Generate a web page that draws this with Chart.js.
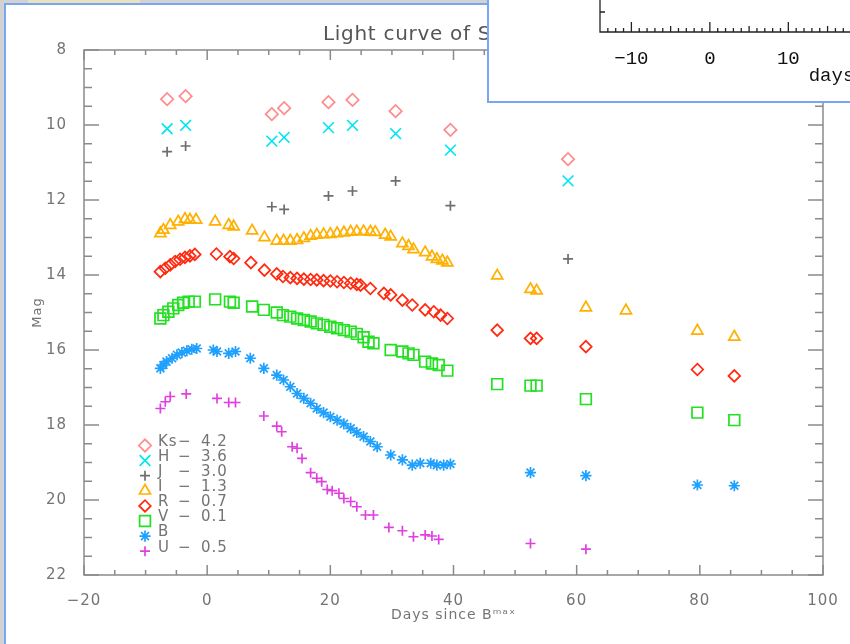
<!DOCTYPE html>
<html>
<head>
<meta charset="utf-8">
<script src="https://cdn.jsdelivr.net/npm/chart.js@4"></script>
<style>
  html, body { margin: 0; padding: 0; width: 850px; height: 644px; overflow: hidden; background: #d2d2d2; }
  #topbar { position: absolute; left: 28px; top: 0; width: 112px; height: 3px; background: #e7e1c2; }
  #win { position: absolute; left: 4px; top: 3px; width: 900px; height: 700px; background: #fff;
         border-left: 2px solid #78a6f2; border-top: 2px solid #78a6f2; }
  #main { position: absolute; left: 0; top: 0; }
  #inset { position: absolute; left: 487px; top: -10px; width: 700px; height: 111px; background: #fff;
           border-left: 2px solid #78a6f2; border-bottom: 2px solid #78a6f2; overflow: hidden; }
  #insetChart { position: absolute; left: 0; top: 10px; }
</style>
</head>
<body>
<div id="topbar"></div>
<div id="win"></div>
<canvas id="main" width="850" height="644"></canvas>
<div id="inset"><canvas id="insetChart" width="574" height="101"></canvas></div>
<script>
// days since B max / magnitudes (with offsets applied)
const nirDays = [-6.5, -3.5, 10.5, 12.5, 19.7, 23.6, 30.6, 39.5, 58.6];
const ksMag = [9.31, 9.23, 9.71, 9.55, 9.39, 9.33, 9.63, 10.13, 10.91];
const hMag = [10.10, 10.01, 10.43, 10.33, 10.07, 10.01, 10.23, 10.67, 11.49];
const jMag = [10.71, 10.56, 12.18, 12.25, 11.89, 11.76, 11.49, 12.15, 13.57];

const iDays = [-7.6, -7.1, -6.0, -4.7, -3.6, -2.8, -1.8, 1.3, 3.5, 4.3, 7.3, 9.3, 11.3, 12.4, 13.5, 14.6, 15.7,
  16.8, 17.8, 18.9, 20.0, 21.1, 22.2, 23.3, 24.3, 25.4, 26.5, 27.3, 28.9, 29.8, 31.7, 32.7, 33.5, 35.4, 36.5,
  37.3, 38.2, 39.0, 47.1, 52.5, 53.5, 61.5, 68.0, 79.6, 85.6];
const iMag = [12.89, 12.80, 12.67, 12.58, 12.51, 12.53, 12.53, 12.58, 12.67, 12.71, 12.82, 13.00, 13.09, 13.09,
  13.09, 13.07, 13.02, 12.96, 12.93, 12.92, 12.91, 12.89, 12.87, 12.85, 12.84, 12.84, 12.85, 12.86, 12.93, 12.98,
  13.16, 13.23, 13.32, 13.40, 13.51, 13.58, 13.62, 13.67, 14.02, 14.38, 14.42, 14.87, 14.95, 15.49, 15.65];

const rDays = [-7.6, -6.8, -6.0, -5.2, -4.4, -3.6, -2.8, -2.0, 1.5, 3.7, 4.3, 7.1, 9.3, 11.3, 12.3, 13.5, 14.6,
  15.7, 16.8, 17.8, 18.9, 20.0, 21.1, 22.2, 23.3, 24.3, 24.9, 26.5, 28.7, 29.8, 31.7, 33.3, 35.4, 36.8, 37.9,
  39.0, 47.1, 52.5, 53.5, 61.5, 79.6, 85.6];
const rMag = [13.91, 13.82, 13.73, 13.64, 13.58, 13.53, 13.49, 13.45, 13.44, 13.51, 13.56, 13.67, 13.87, 13.97,
  14.04, 14.07, 14.09, 14.11, 14.12, 14.13, 14.15, 14.16, 14.18, 14.20, 14.22, 14.25, 14.27, 14.36, 14.49, 14.53,
  14.67, 14.80, 14.93, 14.98, 15.07, 15.16, 15.47, 15.69, 15.69, 15.91, 16.52, 16.69];

const vDays = [-7.6, -7.1, -6.3, -5.5, -4.7, -3.9, -3.0, -2.0, 1.3, 3.7, 4.3, 7.3, 9.2, 11.3, 12.3, 13.5, 14.6,
  15.7, 16.8, 17.8, 18.9, 20.0, 21.1, 22.2, 23.3, 24.3, 25.4, 26.2, 27.0, 29.8, 31.7, 32.7, 33.5, 35.4, 36.5,
  37.6, 39.0, 47.1, 52.5, 53.5, 61.5, 79.6, 85.6];
const vMag = [15.16, 15.07, 14.98, 14.89, 14.80, 14.74, 14.71, 14.71, 14.65, 14.71, 14.74, 14.84, 14.93, 15.00,
  15.07, 15.11, 15.16, 15.20, 15.24, 15.29, 15.33, 15.38, 15.42, 15.47, 15.51, 15.57, 15.66, 15.78, 15.82, 16.00,
  16.04, 16.09, 16.13, 16.31, 16.36, 16.40, 16.55, 16.91, 16.95, 16.95, 17.31, 17.67, 17.87];

const bDays = [-7.6, -7.1, -6.6, -5.7, -4.9, -4.1, -3.3, -2.5, -1.7, 1.0, 1.6, 3.5, 4.6, 7.0, 9.2, 11.3, 12.4,
  13.5, 14.6, 15.7, 16.8, 17.8, 18.9, 20.0, 21.1, 22.2, 23.3, 24.3, 25.4, 26.5, 27.6, 29.8, 31.7, 33.3, 34.6,
  36.3, 37.3, 38.4, 39.5, 52.5, 61.5, 79.6, 85.6];
const bMag = [16.49, 16.40, 16.31, 16.22, 16.13, 16.07, 16.02, 15.98, 15.96, 16.00, 16.04, 16.09, 16.04, 16.22,
  16.49, 16.67, 16.80, 16.98, 17.16, 17.29, 17.42, 17.56, 17.67, 17.78, 17.87, 17.97, 18.09, 18.20, 18.31, 18.44,
  18.58, 18.80, 18.93, 19.07, 19.02, 19.02, 19.07, 19.07, 19.04, 19.27, 19.35, 19.60, 19.62];

const uDays = [-7.6, -6.8, -6.0, -3.4, 1.6, 3.5, 4.6, 9.2, 11.3, 12.1, 13.8, 14.6, 15.4, 16.8, 17.8, 18.6, 19.5,
  20.3, 21.4, 22.2, 23.3, 24.3, 25.7, 27.0, 29.5, 31.7, 33.5, 35.4, 36.5, 37.6, 52.5, 61.5];
const uMag = [17.56, 17.38, 17.24, 17.17, 17.29, 17.40, 17.40, 17.76, 18.03, 18.18, 18.58, 18.62, 18.89, 19.27,
  19.42, 19.51, 19.72, 19.75, 19.82, 19.96, 20.04, 20.18, 20.40, 20.40, 20.73, 20.82, 20.98, 20.93, 20.96, 21.05,
  21.16, 21.31];

const bandNames = ["Ks", "H", "J", "I", "R", "V", "B", "U"];
const bandOffsets = ["4.2", "3.6", "3.0", "1.3", "0.7", "0.1", "", "0.5"];

const xTicks = [-20, 0, 20, 40, 60, 80, 100];
const yTicks = [8, 10, 12, 14, 16, 18, 20, 22];
const insetTicks = [-10, 0, 10, 20, 30, 40];

// marker styles
const bandStyle = [
  { pointStyle: "rectRot", color: "#ff8c8c", radius: 6.2 },
  { pointStyle: "crossRot", color: "#00e6f0", radius: 7.6 },
  { pointStyle: "cross", color: "#6e6e6e", radius: 5 },
  { pointStyle: "triangle", color: "#ffb000", radius: 6.4 },
  { pointStyle: "rectRot", color: "#ff2a10", radius: 5.8 },
  { pointStyle: "rect", color: "#22e022", radius: 7.6 },
  { pointStyle: "star", color: "#1ea0ff", radius: 5.6 },
  { pointStyle: "cross", color: "#e040e0", radius: 5 },
];

const bandData = [
  [nirDays, ksMag], [nirDays, hMag], [nirDays, jMag], [iDays, iMag],
  [rDays, rMag], [vDays, vMag], [bDays, bMag], [uDays, uMag],
];

function toPoints(days, mags) {
  return days.map((d, i) => ({ x: d, y: mags[i] }));
}

const datasets = bandData.map(([d, m], i) => ({
  label: bandNames[i],
  data: toPoints(d, m),
  pointStyle: bandStyle[i].pointStyle,
  pointRadius: bandStyle[i].radius,
  pointHoverRadius: bandStyle[i].radius,
  borderColor: bandStyle[i].color,
  backgroundColor: "rgba(0,0,0,0)",
  borderWidth: 1.7,
  showLine: false,
}));

const axisGrey = "#8a8a8a";
const textGrey = "#747474";

// IDL style frame with inward ticks on all 4 sides
const framePlugin = {
  id: "frame",
  beforeDraw(chart) {
    chart.ctx.letterSpacing = "1px";
  },
  beforeDatasetsDraw(chart) {
    const { ctx, chartArea: a } = chart;
    const xs = chart.scales.x, ys = chart.scales.y;
    ctx.save();
    ctx.strokeStyle = axisGrey;
    ctx.lineWidth = 1.5;
    ctx.strokeRect(a.left, a.top, a.right - a.left, a.bottom - a.top);
    ctx.beginPath();
    for (let v = xs.min; v <= xs.max; v += 5) {
      const px = xs.getPixelForValue(v);
      const len = v % 20 === 0 ? 10 : 5;
      ctx.moveTo(px, a.bottom); ctx.lineTo(px, a.bottom - len);
      ctx.moveTo(px, a.top); ctx.lineTo(px, a.top + len);
    }
    for (let v = ys.min; v <= ys.max; v += 0.5) {
      const py = ys.getPixelForValue(v);
      const len = v % 2 === 0 ? 15 : 8;
      ctx.moveTo(a.left, py); ctx.lineTo(a.left + len, py);
      ctx.moveTo(a.right, py); ctx.lineTo(a.right - len, py);
    }
    ctx.stroke();

    // title (partly hidden behind the window on top)
    ctx.fillStyle = "#555";
    ctx.font = "20px 'DejaVu Sans'";
    ctx.letterSpacing = "0.7px";
    ctx.textAlign = "left";
    ctx.textBaseline = "middle";
    ctx.fillText("Light curve of SN", a.left + 239, 35);
    ctx.restore();
  },
  afterDatasetsDraw(chart) {
    const { ctx, chartArea: a } = chart;
    ctx.save();
    chart.data.datasets.forEach((ds, i) => {
      const ty = a.top + 392 + i * 15.1;
      ctx.strokeStyle = ds.borderColor;
      ctx.fillStyle = "rgba(0,0,0,0)";
      ctx.lineWidth = ds.borderWidth;
      Chart.helpers.drawPoint(ctx, { pointStyle: ds.pointStyle, radius: ds.pointRadius, borderWidth: ds.borderWidth, rotation: 0 },
        a.left + 61, ty + 3.5);
      ctx.fillStyle = textGrey;
      ctx.font = "15px 'DejaVu Sans'";
      ctx.letterSpacing = "1px";
      ctx.textBaseline = "middle";
      ctx.textAlign = "left";
      ctx.fillText(bandNames[i], a.left + 74, ty);
      if (bandOffsets[i]) {
        ctx.fillText("\u2212", a.left + 94, ty);
        ctx.fillText(bandOffsets[i], a.left + 117, ty);
      }
    });
    ctx.restore();
  },
};

new Chart(document.getElementById("main"), {
  type: "scatter",
  data: { datasets },
  options: {
    responsive: false,
    animation: false,
    events: [],
    layout: { padding: { top: 50, right: 27, left: 0, bottom: 0 } },
    plugins: { legend: { display: false }, tooltip: { enabled: false }, title: { display: false } },
    scales: {
      x: {
        type: "linear", min: -20, max: 100,
        grid: { display: false }, border: { display: false },
        afterBuildTicks: (s) => { s.ticks = xTicks.map((v) => ({ value: v })); },
        afterFit: (s) => { s.height = 69; },
        ticks: {
          color: textGrey, padding: 9, maxRotation: 0,
          font: { family: "DejaVu Sans", size: 15 },
          callback: (v) => (v < 0 ? "\u2212" + Math.abs(v) : String(v)),
        },
        title: {
          display: true, text: "Days since B\u1d50\u1d43\u02e3", color: textGrey,
          font: { family: "DejaVu Sans", size: 14 }, padding: { top: 0, bottom: 20 },
        },
      },
      y: {
        type: "linear", min: 8, max: 22, reverse: true,
        grid: { display: false }, border: { display: false },
        afterBuildTicks: (s) => { s.ticks = yTicks.map((v) => ({ value: v })); },
        afterFit: (s) => { s.width = 84; },
        ticks: { color: textGrey, padding: 9, font: { family: "DejaVu Sans", size: 15 } },
        title: {
          display: true, text: "Mag", color: textGrey,
          font: { family: "DejaVu Sans", size: 13 }, padding: { top: 30, bottom: 0 },
        },
      },
    },
  },
  plugins: [framePlugin],
});

// overlapping window: another plot, only its lower axis is visible
const insetAxesPlugin = {
  id: "insetAxes",
  beforeDatasetsDraw(chart) {
    const { ctx, chartArea: a } = chart;
    const xs = chart.scales.x, ys = chart.scales.y;
    ctx.save();
    ctx.strokeStyle = "#222";
    ctx.lineWidth = 1.3;
    ctx.beginPath();
    ctx.moveTo(a.left, a.top - 5); ctx.lineTo(a.left, a.bottom); ctx.lineTo(a.right, a.bottom);
    for (let v = Math.ceil(xs.min); v <= xs.max; v += 1) {
      const px = xs.getPixelForValue(v);
      const len = v % 10 === 0 ? 10 : (v % 5 === 0 ? 6 : 4);
      ctx.moveTo(px, a.bottom); ctx.lineTo(px, a.bottom - len);
    }
    const py = ys.getPixelForValue(5);
    ctx.moveTo(a.left, py); ctx.lineTo(a.left + 5, py);
    ctx.stroke();
    ctx.restore();
  },
};

new Chart(document.getElementById("insetChart"), {
  type: "scatter",
  data: { datasets: [] },
  options: {
    responsive: false,
    animation: false,
    events: [],
    layout: { padding: 0 },
    plugins: { legend: { display: false }, tooltip: { enabled: false } },
    scales: {
      x: {
        type: "linear", min: -14, max: 45,
        grid: { display: false }, border: { display: false },
        afterBuildTicks: (s) => { s.ticks = insetTicks.map((v) => ({ value: v })); },
        afterFit: (s) => { s.height = 69; },
        ticks: {
          color: "#111", padding: 8, maxRotation: 0,
          font: { family: "Liberation Mono", size: 19 },
          callback: (v) => (v < 0 ? "\u2212" + Math.abs(v) : String(v)),
        },
        title: {
          display: true, text: "days", color: "#111",
          font: { family: "Liberation Mono", size: 19 }, padding: { top: 0, bottom: 14 },
        },
      },
      y: {
        type: "linear", min: 0, max: 8,
        grid: { display: false }, border: { display: false },
        ticks: { display: false },
        afterFit: (s) => { s.width = 111; },
      },
    },
  },
  plugins: [insetAxesPlugin],
});
</script>
</body>
</html>
